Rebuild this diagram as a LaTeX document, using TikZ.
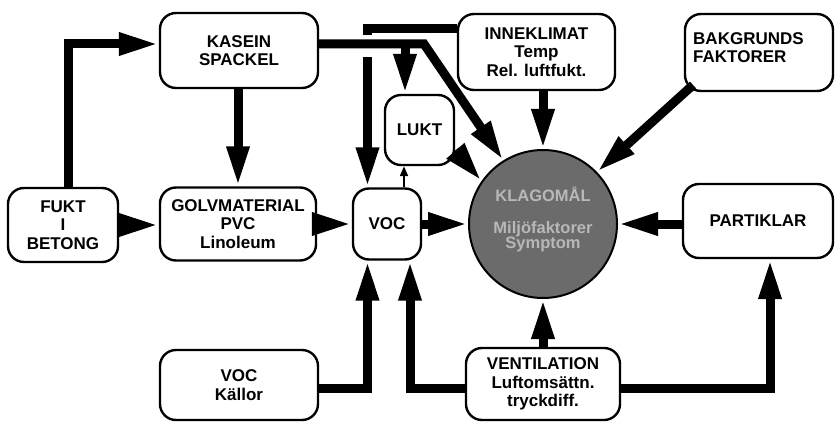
\documentclass[tikz,border=0pt]{standalone}
\usepackage{fontspec}
\setmainfont{Liberation Sans}
\usetikzlibrary{arrows.meta,calc}
\begin{document}
\begin{tikzpicture}[x=1pt,y=-1pt,
  box/.style={draw=black, line width=2.4pt, rounded corners=16pt, inner sep=0pt, align=center,
    font=\fontsize{17}{18.5}\selectfont\bfseries},
  arr/.style={line width=9pt, -{Triangle[width=21pt,length=40pt]}, miter limit=10},
  thinarr/.style={line width=2pt, -{Triangle[width=8pt,length=10pt]}},
  ctext/.style={text=black!28, font=\fontsize{16.5}{15}\selectfont\bfseries, align=center, inner sep=0pt}
]
\useasboundingbox (0,0) rectangle (840,422);
\fill[white] (0,0) rectangle (840,422);

% boxes
\node[box, minimum width=158pt, minimum height=75pt] (kasein) at (239,50.5) {KASEIN\\SPACKEL};
\node[box, minimum width=110pt, minimum height=74pt] (fukt) at (63,225) {FUKT\\I\\BETONG};
\node[box, minimum width=156pt, minimum height=73pt] (golv) at (238,224) {GOLVMATERIAL\\PVC\\Linoleum};
\node[box, minimum width=68pt, minimum height=71pt] (voc) at (387,224) {VOC};
\node[box, minimum width=69pt, minimum height=70pt] (lukt) at (419.5,130) {LUKT};
\node[box, minimum width=157pt, minimum height=76pt] (inne) at (536.5,52) {INNEKLIMAT\\Temp\\Rel. luftfukt.};
\node[box, minimum width=148pt, minimum height=77pt] (bak) at (759,52.5) {};
\node[font=\fontsize{17}{18.5}\selectfont\bfseries, align=left, anchor=north west, inner sep=0pt] (baktext) at (693,32) {BAKGRUNDS\\FAKTORER};
\node[box, minimum width=150pt, minimum height=74pt] (part) at (758,221) {PARTIKLAR};
\node[box, minimum width=158pt, minimum height=70pt] (vock) at (239,385) {VOC\\Källor};
\node[box, minimum width=154pt, minimum height=72pt] (vent) at (543,384) {VENTILATION\\Luftomsättn.\\tryckdiff.};

% circle
\node[circle, draw=black, line width=2pt, fill=black!58, minimum size=148pt, inner sep=0pt] (klag) at (543,224) {};
\node[ctext] (k1) at (543,194) {KLAGOMÅL};
\node[ctext] (k2) at (543,237) {Miljöfaktorer\\Symptom};

% coordinates
\coordinate (kbend) at (424,44);
\coordinate (kbr) at (405,44);
\coordinate (bakstart) at (693,85);

% INNEKLIMAT -> VOC (passes under KASEIN line)
\draw[arr] ([yshift=23pt]inne.west) -| ([xshift=-19.5pt]voc.north);
\draw[white, line width=16pt] (367.5,35) -- (367.5,57);

% FUKT -> KASEIN
\draw[arr] ([xshift=5pt]fukt.north) |- ([yshift=6.5pt]kasein.west);
% FUKT -> GOLV
\draw[arr] (fukt.east) -- (fukt.east -| golv.west);
% KASEIN -> GOLV
\draw[arr] (golv.north |- kasein.south) -- (golv.north);
% GOLV -> VOC
\draw[arr] (golv.east) -- (golv.east -| voc.west);
% VOC -> circle
\draw[arr] (voc.east) -- (klag.west |- voc.east);
% VOC -> LUKT
\draw[thinarr] ([xshift=17pt]voc.north) -- ([xshift=17pt]voc.north |- lukt.south);
% LUKT -> circle
\draw[arr] (lukt.-30) -- (klag.145);
% KASEIN -> circle and LUKT
\draw[arr] ([yshift=6.5pt]kasein.east) -- (kbend) -- (klag.122);
\draw[arr] (kbr) -- (kbr |- lukt.north);
% INNEKLIMAT -> circle
\draw[arr] (klag.north |- inne.south) -- (klag.north);
% BAKGRUNDS -> circle
\draw[arr] (bakstart) -- (klag.44);
% PARTIKLAR -> circle
\draw[arr] (part.west |- klag.east) -- (klag.east);
% VENTILATION -> circle
\draw[arr] (vent.north) -- (klag.south -| vent.north);
% VENTILATION -> VOC
\draw[arr] ([yshift=-4pt]vent.west) -| ([xshift=23pt]voc.south);
% VOC Kallor -> VOC
\draw[arr] ([yshift=-3pt]vock.east) -| ([xshift=-19.5pt]voc.south);
% VENTILATION -> PARTIKLAR
\draw[arr] ([yshift=-4pt]vent.east) -| ([xshift=12pt]part.south);
\end{tikzpicture}
\end{document}
